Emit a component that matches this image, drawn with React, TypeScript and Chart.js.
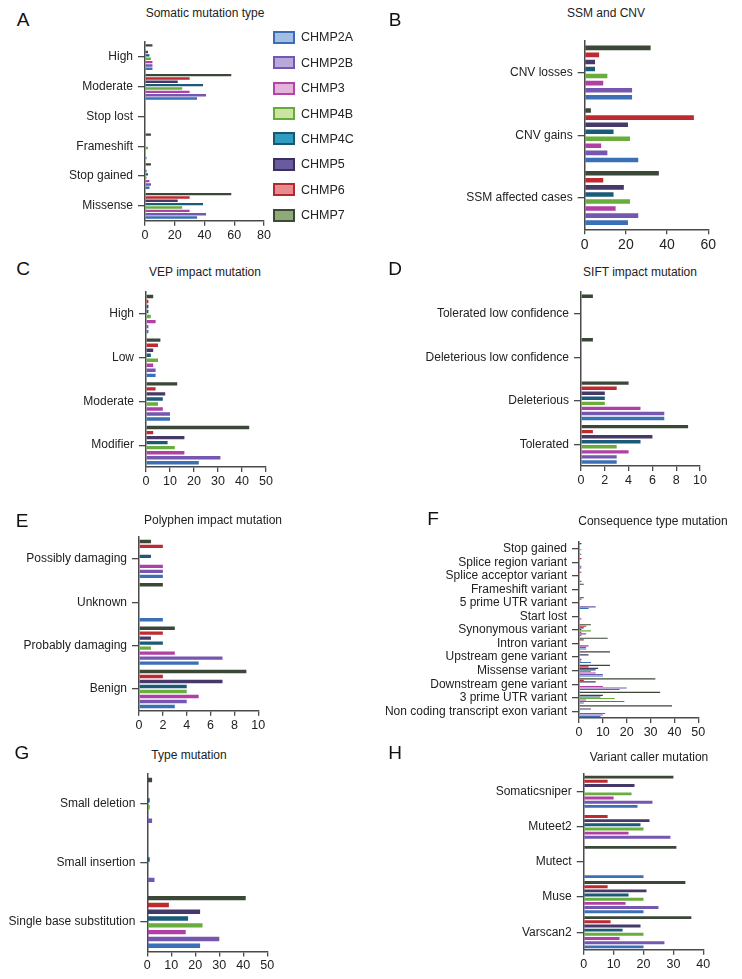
import React, { useEffect, useRef } from 'react';
import { Chart, registerables } from 'chart.js';
Chart.register(...registerables);

const FONT = '"Liberation Sans", Arial, Helvetica, sans-serif';

const SERIES = ['CHMP2A', 'CHMP2B', 'CHMP3', 'CHMP4B', 'CHMP4C', 'CHMP5', 'CHMP6', 'CHMP7'];
const BAR_COLORS = ['#3b6fb6', '#7557b0', '#b03fa6', '#69ad3d', '#1b5b78', '#463868', '#bf2a30', '#3b4737'];
const LEGEND_FILLS = ['#a3bde3', '#b9a9db', '#e3b3da', '#cce4a3', '#2f9cc0', '#6a5a9e', '#e58c8f', '#8faa78'];
const LEGEND_BORDERS = ['#3a6db4', '#7456b4', '#b444aa', '#66ab36', '#1c5570', '#3b2f60', '#b5282d', '#3a4a34'];

// A: Somatic mutation type (rows = CHMP2A..CHMP7, cols = categories top->bottom)
const somaticCats = ['High', 'Moderate', 'Stop lost', 'Frameshift', 'Stop gained', 'Missense'];
const somaticVals = [
  [5, 35, 0, 1, 3, 35],
  [5, 41, 0, 0, 4, 41],
  [5, 30, 0, 0, 3, 30],
  [4, 25, 0, 2, 1, 25],
  [3, 39, 0, 0, 2, 39],
  [2, 22, 0, 0, 1, 22],
  [0, 30, 0, 0, 0, 30],
  [5, 58, 0, 4, 4, 58],
];

// B: SSM and CNV
const ssmCats = ['CNV losses', 'CNV gains', 'SSM affected cases'];
const ssmVals = [
  [23, 26, 21],
  [23, 11, 26],
  [9, 8, 15],
  [11, 22, 22],
  [5, 14, 14],
  [5, 21, 19],
  [7, 53, 9],
  [32, 3, 36],
];

// C: VEP impact mutation
const vepCats = ['High', 'Low', 'Moderate', 'Modifier'];
const vepVals = [
  [1, 4, 10, 22],
  [1, 4, 10, 31],
  [4, 3, 7, 16],
  [2, 5, 5, 12],
  [1, 2, 7, 9],
  [1, 3, 8, 16],
  [1, 5, 4, 3],
  [3, 6, 13, 43],
];

// D: SIFT impact mutation
const siftCats = ['Tolerated low confidence', 'Deleterious low confidence', 'Deleterious', 'Tolerated'];
const siftVals = [
  [0, 0, 7, 3],
  [0, 0, 7, 3],
  [0, 0, 5, 4],
  [0, 0, 2, 3],
  [0, 0, 2, 5],
  [0, 0, 2, 6],
  [0, 0, 3, 1],
  [1, 1, 4, 9],
];

// E: Polyphen impact mutation
const polyCats = ['Possibly damaging', 'Unknown', 'Probably damaging', 'Benign'];
const polyVals = [
  [2, 2, 5, 3],
  [2, 0, 7, 4],
  [2, 0, 3, 5],
  [0, 0, 1, 4],
  [1, 0, 2, 4],
  [0, 0, 1, 7],
  [2, 0, 2, 2],
  [1, 2, 3, 9],
];

// F: Consequence type mutation
const consCats = [
  'Stop gained', 'Splice region variant', 'Splice acceptor variant', 'Frameshift variant',
  '5 prime UTR variant', 'Start lost', 'Synonymous variant', 'Intron variant',
  'Upstream gene variant', 'Missense variant', 'Downstream gene variant', '3 prime UTR variant',
  'Non coding transcript exon variant',
];
const consVals = [
  [1, 1, 1, 0, 4, 0, 1, 3, 5, 10, 17, 2, 9],
  [0, 1, 0, 0, 7, 0, 3, 3, 1, 10, 20, 19, 10],
  [0, 0, 0, 0, 0, 1, 1, 4, 1, 7, 10, 3, 11],
  [1, 0, 0, 0, 0, 0, 5, 0, 0, 5, 0, 15, 0],
  [0, 0, 0, 0, 0, 0, 1, 0, 0, 7, 0, 9, 0],
  [0, 0, 0, 0, 0, 0, 2, 0, 4, 8, 7, 10, 5],
  [0, 1, 1, 0, 1, 0, 3, 2, 0, 4, 2, 0, 0],
  [1, 0, 0, 2, 2, 0, 5, 12, 13, 13, 32, 34, 39],
];

// G: Type mutation
const typeCats = ['Small deletion', 'Small insertion', 'Single base substitution'];
const typeVals = [
  [0, 0, 22],
  [2, 3, 30],
  [0, 0, 16],
  [1, 0, 23],
  [1, 1, 17],
  [0, 0, 22],
  [0, 0, 9],
  [2, 0, 41],
];

// H: Variant caller mutation
const callerCats = ['Somaticsniper', 'Muteet2', 'Mutect', 'Muse', 'Varscan2'];
const callerVals = [
  [18, 0, 20, 20, 20],
  [23, 29, 0, 25, 27],
  [10, 15, 0, 14, 12],
  [16, 20, 0, 20, 20],
  [0, 19, 0, 15, 13],
  [17, 22, 0, 21, 19],
  [8, 8, 0, 8, 9],
  [30, 0, 31, 34, 36],
];

type PanelDef = {
  letter: string;
  title: string;
  cats: string[];
  values: number[][];
  xMax: number;
  step: number;
  plot: [number, number, number, number];
  col: number;
  titleX: number;
  titleY: number;
  letterX: number;
  letterY: number;
  catPct: number;
  barPct: number;
  xFont: number;
};

const PANELS: PanelDef[] = [
  { letter: 'A', title: 'Somatic mutation type', cats: somaticCats, values: somaticVals, xMax: 80, step: 20,
    plot: [145, 36.7, 264, 220.7], col: 0, titleX: 205, titleY: 13, letterX: 23, letterY: 18.5, catPct: 0.9, barPct: 0.72, xFont: 12.5 },
  { letter: 'B', title: 'SSM and CNV', cats: ssmCats, values: ssmVals, xMax: 60, step: 20,
    plot: [584.7, 35, 708.3, 229.3], col: 370, titleX: 606, titleY: 13, letterX: 395, letterY: 18.5, catPct: 0.9, barPct: 0.65, xFont: 14 },
  { letter: 'C', title: 'VEP impact mutation', cats: vepCats, values: vepVals, xMax: 50, step: 10,
    plot: [146, 286.6, 266, 467], col: 0, titleX: 205, titleY: 272, letterX: 23, letterY: 268, catPct: 0.92, barPct: 0.68, xFont: 12.5 },
  { letter: 'D', title: 'SIFT impact mutation', cats: siftCats, values: siftVals, xMax: 10, step: 2,
    plot: [581, 286, 700, 466], col: 370, titleX: 640, titleY: 272, letterX: 395, letterY: 268, catPct: 0.93, barPct: 0.68, xFont: 12.5 },
  { letter: 'E', title: 'Polyphen impact mutation', cats: polyCats, values: polyVals, xMax: 10, step: 2,
    plot: [139, 531.7, 258.3, 710.7], col: 0, titleX: 213, titleY: 520, letterX: 22, letterY: 520, catPct: 0.92, barPct: 0.68, xFont: 12.5 },
  { letter: 'F', title: 'Consequence type mutation', cats: consCats, values: consVals, xMax: 50, step: 10,
    plot: [579, 536, 698.3, 718], col: 370, titleX: 653, titleY: 521, letterX: 433, letterY: 518, catPct: 0.9, barPct: 0.75, xFont: 12.5 },
  { letter: 'G', title: 'Type mutation', cats: typeCats, values: typeVals, xMax: 50, step: 10,
    plot: [147.3, 768.5, 267.3, 951.5], col: 0, titleX: 189, titleY: 755, letterX: 22, letterY: 752, catPct: 0.92, barPct: 0.65, xFont: 12.5 },
  { letter: 'H', title: 'Variant caller mutation', cats: callerCats, values: callerVals, xMax: 40, step: 10,
    plot: [583.7, 768.5, 703.3, 949.8], col: 370, titleX: 649, titleY: 757, letterX: 395, letterY: 752, catPct: 0.95, barPct: 0.7, xFont: 12.5 },
];

const AXIS_COLOR = '#4a4a4a';
const TEXT_COLOR = '#222';

function BarPanel({ p }: { p: PanelDef }) {
  const ref = useRef<HTMLCanvasElement>(null);
  const [l, t, r, b] = p.plot;
  const cx = p.col;
  const cy = Math.floor(t - 6);
  const padTop = t - cy;
  const cw = Math.ceil(r + 22 - cx);
  const padRight = cx + cw - r;
  const xH = 26;
  const ch = Math.ceil(b + xH - cy);
  const padBottom = cy + ch - b - xH;

  useEffect(() => {
    if (!ref.current) return;
    const datasets = SERIES.map((name, i) => ({
      label: name,
      data: p.values[i],
      backgroundColor: BAR_COLORS[i],
      borderWidth: 0,
      categoryPercentage: p.catPct,
      barPercentage: p.barPct,
    })).reverse();
    const chart = new Chart(ref.current, {
      type: 'bar',
      data: { labels: p.cats, datasets },
      options: {
        indexAxis: 'y',
        responsive: false,
        animation: false,
        devicePixelRatio: 1,
        layout: { padding: { top: padTop, right: padRight, bottom: padBottom, left: 0 } },
        plugins: { legend: { display: false }, tooltip: { enabled: false }, title: { display: false } },
        scales: {
          x: {
            type: 'linear',
            min: 0,
            max: p.xMax,
            ticks: { stepSize: p.step, font: { family: FONT, size: p.xFont }, color: TEXT_COLOR, padding: 2, maxRotation: 0 },
            grid: { drawOnChartArea: false, tickLength: 5, color: AXIS_COLOR, lineWidth: 1.3 },
            border: { color: AXIS_COLOR, width: 1.5 },
            afterFit: (s: any) => { s.height = xH; },
          },
          y: {
            type: 'category',
            ticks: { autoSkip: false, font: { family: FONT, size: 12 }, color: TEXT_COLOR, padding: 5 },
            grid: { offset: false, drawOnChartArea: false, tickLength: 7, color: AXIS_COLOR, lineWidth: 1.3 },
            border: { color: AXIS_COLOR, width: 1.5 },
            afterFit: (s: any) => { s.width = l - cx; },
          },
        },
      } as any,
    });
    return () => chart.destroy();
  }, []);

  return (
    <canvas
      ref={ref}
      width={cw}
      height={ch}
      style={{ position: 'absolute', left: cx, top: cy, width: cw, height: ch }}
    />
  );
}

function Legend() {
  return (
    <>
      {SERIES.map((name, i) => (
        <div key={name} style={{ position: 'absolute', left: 273, top: 37.3 + i * 25.4 - 7, height: 14, display: 'flex', alignItems: 'center' }}>
          <div style={{ width: 18, height: 9, background: LEGEND_FILLS[i], border: `2px solid ${LEGEND_BORDERS[i]}` }} />
          <span style={{ marginLeft: 6, fontSize: 12.5, color: TEXT_COLOR, fontFamily: FONT, whiteSpace: 'nowrap' }}>{name}</span>
        </div>
      ))}
    </>
  );
}

export default function App() {
  return (
    <div style={{ position: 'absolute', left: 0, top: 0, width: 742, height: 979, background: '#fff', fontFamily: FONT, overflow: 'hidden' }}>
      {PANELS.map((p) => (
        <React.Fragment key={p.letter}>
          <BarPanel p={p} />
          <div style={{ position: 'absolute', left: p.titleX, top: p.titleY, transform: 'translate(-50%, -50%)', fontSize: 12, color: TEXT_COLOR, whiteSpace: 'nowrap' }}>{p.title}</div>
          <div style={{ position: 'absolute', left: p.letterX, top: p.letterY, transform: 'translate(-50%, -50%)', fontSize: 19, color: '#111', lineHeight: 1 }}>{p.letter}</div>
        </React.Fragment>
      ))}
      <Legend />
    </div>
  );
}
